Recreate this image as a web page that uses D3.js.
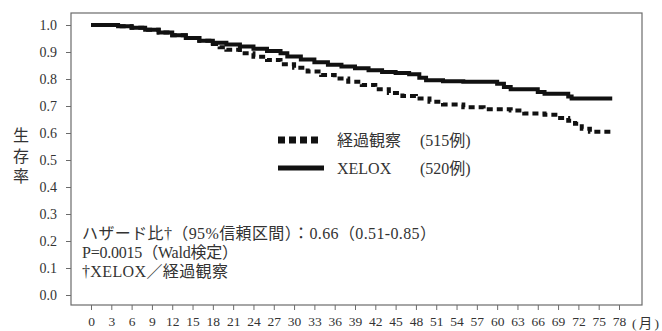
<!DOCTYPE html>
<html>
<head>
<meta charset="utf-8">
<script src="https://cdn.jsdelivr.net/npm/d3@7"></script>
<style>
  html, body { margin: 0; padding: 0; background: #fff; }
  svg { display: block; }
  text { fill: #333; }
</style>
</head>
<body>
<svg id="chart" width="662" height="331"></svg>
<script>
// Kaplan–Meier survival curves (step functions): time in months, survival rate
const xelTimes  = [0, 4, 6, 8, 10, 12, 14, 16, 18, 20, 22, 24, 26, 28, 29, 31, 33, 35, 37, 39, 41, 43, 45, 47, 48.5, 49.5, 52, 55, 60, 61, 62, 66, 67, 70.5, 71, 77];
const xelValues = [1.0, 0.995, 0.99, 0.982, 0.972, 0.962, 0.952, 0.942, 0.934, 0.928, 0.92, 0.912, 0.904, 0.895, 0.883, 0.872, 0.862, 0.853, 0.846, 0.84, 0.832, 0.826, 0.822, 0.818, 0.805, 0.795, 0.792, 0.79, 0.782, 0.77, 0.762, 0.752, 0.745, 0.735, 0.728, 0.728];

const obsTimes  = [0, 4, 6, 8, 10, 12, 14, 16, 18, 19, 20, 22, 24, 26, 28, 30, 32, 34, 36, 38, 40, 42, 44, 46, 48, 50, 52, 55, 58, 62, 64, 67, 69, 70.5, 71.5, 72.5, 73.7, 77];
const obsValues = [1.0, 0.995, 0.99, 0.982, 0.972, 0.962, 0.952, 0.942, 0.93, 0.918, 0.908, 0.895, 0.882, 0.87, 0.855, 0.842, 0.828, 0.815, 0.802, 0.79, 0.778, 0.762, 0.748, 0.737, 0.728, 0.716, 0.706, 0.695, 0.688, 0.683, 0.672, 0.668, 0.656, 0.645, 0.634, 0.616, 0.605, 0.605];

const xTickValues = d3.range(0, 79, 3);
const yTickValues = [0, 0.1, 0.2, 0.3, 0.4, 0.5, 0.6, 0.7, 0.8, 0.9, 1.0];

const legendLabels = ["経過観察", "XELOX"];
const legendCounts = ["(515例)", "(520例)"];
const noteLines = [
  "ハザード比†（95%信頼区間）：0.66（0.51-0.85）",
  "P=0.0015（Wald検定）",
  "†XELOX／経過観察"
];
const noteWidths = [354, 156, 146];

const serif = "'Liberation Serif', 'Noto Sans CJK JP', serif";
const svg = d3.select("#chart");

// Plot frame
const frame = { left: 71, right: 642, top: 13, bottom: 305 };

const x = d3.scaleLinear().domain([0, 78]).range([91, 619]);
const y = d3.scaleLinear().domain([0, 1]).range([295, 25]);

svg.append("rect")
  .attr("x", frame.left).attr("y", frame.top)
  .attr("width", frame.right - frame.left)
  .attr("height", frame.bottom - frame.top)
  .attr("fill", "none").attr("stroke", "#6b6b6b").attr("stroke-width", 1.2);

// Y axis
const yAxis = d3.axisLeft(y).tickValues(yTickValues).tickSize(5).tickPadding(9)
  .tickFormat(d3.format(".1f"));
const gy = svg.append("g").attr("transform", `translate(${frame.left},0)`).call(yAxis);
gy.select(".domain").remove();
gy.selectAll(".tick line").attr("stroke", "#6b6b6b");
gy.selectAll(".tick text").style("font-family", serif).style("font-size", "14px").attr("fill", "#333");

// X axis
const xAxis = d3.axisBottom(x).tickValues(xTickValues).tickSize(5).tickPadding(6);
const gx = svg.append("g").attr("transform", `translate(0,${frame.bottom})`).call(xAxis);
gx.select(".domain").remove();
gx.selectAll(".tick line").attr("stroke", "#6b6b6b");
gx.selectAll(".tick text").style("font-family", serif).style("font-size", "13.5px").attr("fill", "#333");

svg.append("text").attr("x", 632).attr("y", 328)
  .style("font-family", serif).style("font-size", "13.5px")
  .attr("textLength", 27).attr("lengthAdjust", "spacing")
  .text("(月)");

// Y axis title, written vertically
svg.append("text")
  .attr("x", 21).attr("y", 158)
  .attr("text-anchor", "middle")
  .style("writing-mode", "vertical-rl")
  .style("font-family", "'Noto Sans CJK JP', sans-serif").style("font-size", "16px")
  .style("letter-spacing", "4.5px")
  .text("生存率");

// Curves
const line = d3.line().x(d => x(d[0])).y(d => y(d[1])).curve(d3.curveStepAfter);
const obsData = d3.zip(obsTimes, obsValues);
const xelData = d3.zip(xelTimes, xelValues);

svg.append("path").datum(obsData).attr("d", line)
  .attr("fill", "none").attr("stroke", "#111").attr("stroke-width", 4)
  .attr("stroke-dasharray", "6,4");
svg.append("path").datum(xelData).attr("d", line)
  .attr("fill", "none").attr("stroke", "#111").attr("stroke-width", 4);

// Legend
svg.append("line").attr("x1", 278).attr("x2", 318).attr("y1", 140).attr("y2", 140)
  .attr("stroke", "#111").attr("stroke-width", 7).attr("stroke-dasharray", "7,4");
svg.append("line").attr("x1", 278).attr("x2", 324).attr("y1", 168).attr("y2", 168)
  .attr("stroke", "#111").attr("stroke-width", 5);
legendLabels.forEach((t, i) => {
  svg.append("text").attr("x", 337).attr("y", 146 + i * 28)
    .style("font-family", serif).style("font-size", "16px").text(t);
  svg.append("text").attr("x", 420).attr("y", 146 + i * 28)
    .style("font-family", serif).style("font-size", "16px").text(legendCounts[i]);
});

// Notes
noteLines.forEach((t, i) => {
  svg.append("text").attr("x", 82).attr("y", [239, 258, 277][i])
    .style("font-family", serif).style("font-size", "16px")
    .attr("textLength", noteWidths[i]).attr("lengthAdjust", "spacing")
    .text(t);
});
</script>
</body>
</html>
